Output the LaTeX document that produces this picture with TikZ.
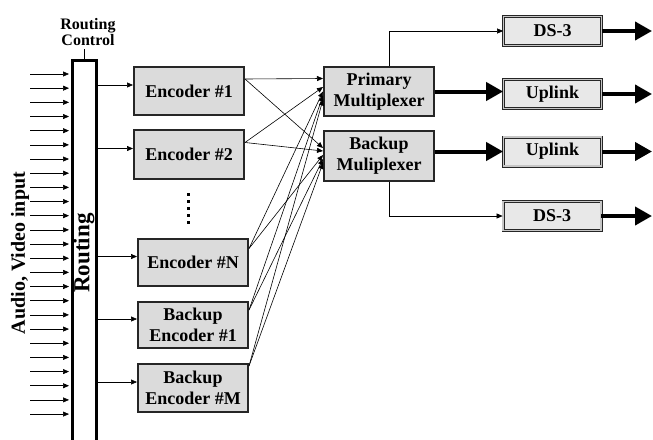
\documentclass[tikz,border=0pt]{standalone}
\usepackage{fontspec}
\setmainfont{Liberation Serif}
\usetikzlibrary{arrows.meta}
\tikzset{
  box/.style={draw=black!85, line width=2pt, fill=gray!28, inner sep=1pt, align=center,
    font=\bfseries\fontsize{18}{21}\selectfont, minimum width=110pt, minimum height=48pt},
  obox/.style={draw=black!85, line width=0.8pt, double=gray!45, double distance=1.4pt,
    fill=gray!18, inner sep=1pt, font=\bfseries\fontsize{18}{21}\selectfont,
    minimum width=98pt, minimum height=29pt},
  conn/.style={line width=0.6pt, -{Triangle[length=6pt,width=5pt]}},
  fat/.style={line width=4pt, -{Triangle[length=17pt,width=18pt]}},
  barbox/.style={draw=black, line width=3pt, fill=white, minimum width=24pt, minimum height=390pt, inner sep=0pt},
}
\begin{document}
\begin{tikzpicture}[x=1pt,y=-1pt]
\useasboundingbox (0,0) rectangle (653,439);
\clip (0,0) rectangle (653,439);

% routing bar
\node[barbox, anchor=north] (rt) at (84,59) {};
\node[rotate=90, font=\bfseries\fontsize{23}{23}\selectfont] (rtl) at (84,253) {Routing};
\node[font=\bfseries\fontsize{16}{16}\selectfont, align=center] (rc) at (88,32) {Routing\\Control};
\draw[line width=0.6pt] (rc.south -| rt.north) -- (rt.north);
\node[rotate=90, font=\bfseries\fontsize{20}{20}\selectfont] (av) at (20,253) {Audio, Video input};

% inputs
\foreach \i in {0,...,24} {
  \coordinate (in\i) at (30,74+14.17*\i);
  \draw[conn, shorten >=1.5pt] (in\i) -- (in\i -| rt.west);
}

% encoders
\node[box] (e1) at (189,91) {Encoder \#1};
\node[box, minimum height=49pt] (e2) at (189,154.5) {Encoder \#2};
\node[box, minimum height=47pt] (en) at (193,262.5) {Encoder \#N};
\node[box, minimum height=46pt] (b1) at (193,325) {Backup\\Encoder \#1};
\node[box] (bm) at (193,388) {Backup\\Encoder \#M};

\foreach \y in {193,200,207,214,221} \fill (187,\y) rectangle +(3,3);

% multiplexers
\node[box, minimum height=49pt] (pm) at (379,91.5) {Primary\\Multiplexer};
\node[box, minimum height=50pt] (bx) at (379,156) {Backup\\Muliplexer};

% output boxes
\node[obox] (ds1) at (552.5,31) {DS-3};
\node[obox] (up1) at (552.5,94) {Uplink};
\node[obox] (up2) at (552.5,151.5) {Uplink};
\node[obox] (ds2) at (552,216) {DS-3};

% routing to encoders
\foreach \n in {e1,e2,en,b1,bm} {
  \coordinate (\n in) at ([yshift=6pt]\n.west);
  \draw[conn] (\n in -| rt.east) -- (\n in);
}

% encoder sources
\coordinate (e1s) at ([yshift=12pt]e1.east);
\coordinate (e2s) at ([yshift=12pt]e2.east);
\coordinate (ens) at ([yshift=14pt]en.east);
\coordinate (b1s) at ([yshift=15pt]b1.east);
\coordinate (bms) at ([yshift=22pt]bm.east);
% mux targets
\coordinate (pe1) at ([yshift=13pt]pm.west);
\coordinate (pe2) at ([yshift=4.5pt]pm.west);
\coordinate (pen) at ([yshift=0pt]pm.west);
\coordinate (pb1) at ([yshift=-4pt]pm.west);
\coordinate (pbm) at ([yshift=-8pt]pm.west);
\coordinate (xe1) at ([yshift=8pt]bx.west);
\coordinate (xe2) at ([yshift=5pt]bx.west);
\coordinate (xen) at ([yshift=1pt]bx.west);
\coordinate (xb1) at ([yshift=-3pt]bx.west);
\coordinate (xbm) at ([yshift=-7pt]bx.west);

\draw[conn] (e1s) -- (pe1);
\draw[conn] (e1s) -- (xe1);
\draw[conn] (e2s) -- (pe2);
\draw[conn] (e2s) -- (xe2);
\draw[conn] (ens) -- (pen);
\draw[conn] (ens) -- (xen);
\draw[conn] (b1s) -- (pb1);
\draw[conn] (b1s) -- (xb1);
\draw[conn] (bms) -- (pbm);
\draw[conn] (bms) -- (xbm);

% mux outputs
\draw[fat] (pm.east) -- (pm.east -| up1.west);
\draw[fat] (up2.west -| bx.east) -- (up2.west);
\coordinate (pmt) at ([xshift=10pt]pm.north);
\coordinate (bxb) at ([xshift=10pt]bx.south);
\draw[conn] (pmt) |- (ds1.west);
\draw[conn] (bxb) |- (ds2.west);

% outputs
\coordinate (xend) at (652,0);
\foreach \n in {ds1,up1,up2,ds2} \draw[fat] (\n.east) -- (\n.east -| xend);
\end{tikzpicture}
\end{document}
